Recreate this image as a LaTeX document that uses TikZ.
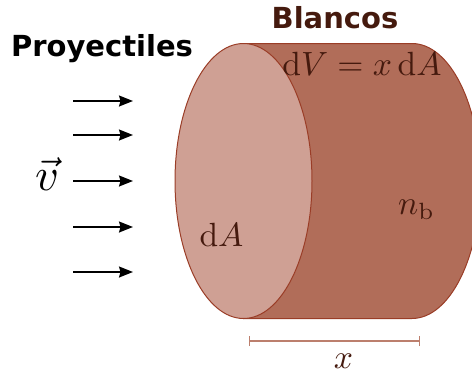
\documentclass[tikz,border=0pt]{standalone}
\usepackage{fontspec}
\usepackage{amsmath}
\newfontfamily\labelfont{DejaVu Sans}
\usetikzlibrary{arrows.meta}
\definecolor{wall}{HTML}{B16D59}
\definecolor{face}{HTML}{CFA094}
\definecolor{rim}{HTML}{9A3D27}
\definecolor{ink}{HTML}{451A0E}
\definecolor{barc}{HTML}{BC7F6D}
\tikzset{
  shaft/.style={draw=black,line width=1.5pt,-{Stealth[length=14pt,width=11pt,inset=1.5pt]}},
  title/.style={font=\labelfont\bfseries\fontsize{29}{34}\selectfont,inner sep=0pt,anchor=base},
  mathlabel/.style={text=ink,inner sep=0pt,anchor=base,scale=3.36},
  bar/.style={draw=barc,line width=1.8pt},
  tick/.style={draw=barc,line width=1pt}
}
\begin{document}
\begin{tikzpicture}[x=1pt,y=-1pt]
\path[use as bounding box,clip] (0,0) rectangle (472,373);
\draw[fill=wall,draw=rim,line width=1pt]
  (243.5,43.5) -- (412,43.5) arc[start angle=-90,end angle=90,x radius=68.5,y radius=137.5]
  -- (243.5,318.5) -- cycle;
\draw[fill=face,draw=rim,line width=1pt] (243.5,181) ellipse[x radius=68.5,y radius=137.5];
\node[title,text=black] (proy) at (102,56) {Proyectiles};
\node[title,text=ink] (blan) at (335,28) {Blancos};
\node[mathlabel] (dv) at (362,75) {$\mathrm{d}V = x\,\mathrm{d}A$};
\node[mathlabel] (nb) at (416.5,214) {$n_{\mathrm{b}}$};
\node[mathlabel] (da) at (221.5,246) {$\mathrm{d}A$};
\node[mathlabel] (x) at (343.5,368) {$x$};
\node[mathlabel,text=black,scale=1.37] (v) at (47,190) {$\vec{v}$};
\foreach \n/\y in {a/101,b/135,c/181,d/227,e/272}{
  \coordinate (s\n) at (73,\y);
  \coordinate (t\n) at (133,\y);
  \draw[shaft] (s\n) -- (t\n);
}
\coordinate (bl) at (249.5,341);
\coordinate (br) at (419.5,341);
\draw[bar] (bl) -- (br);
\draw[tick] ([yshift=-5pt]bl) -- ([yshift=5pt]bl);
\draw[tick] ([yshift=-5pt]br) -- ([yshift=5pt]br);
\end{tikzpicture}
\end{document}
